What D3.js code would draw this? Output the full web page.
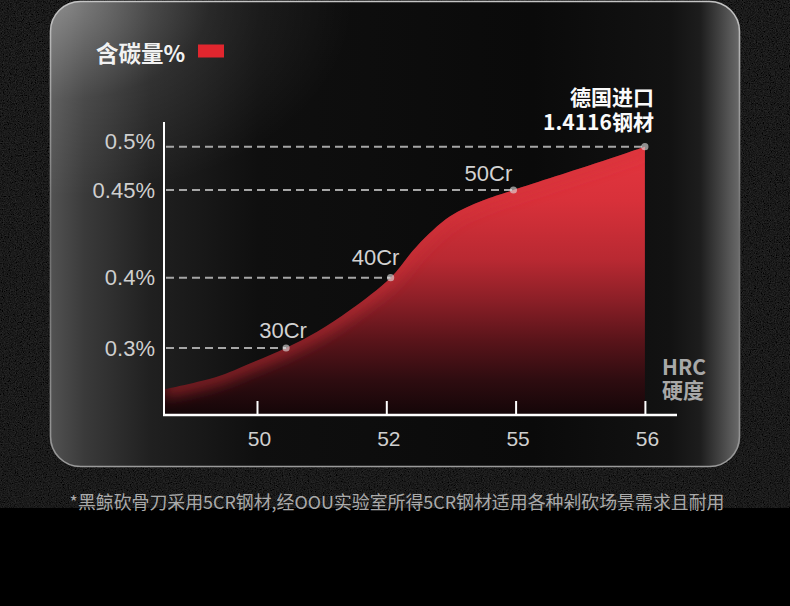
<!DOCTYPE html>
<html>
<head>
<meta charset="utf-8">
<script src="https://cdn.jsdelivr.net/npm/d3@7"></script>
<style>
  html, body { margin: 0; padding: 0; background: #000; }
  svg { display: block; }
</style>
</head>
<body>
<svg id="chart" width="790" height="606"></svg>
<script>
// Carbon content (%) against hardness (HRC) for common knife steels
const hrcTicks = [50, 52, 55, 56];
const carbonTicks = [0.3, 0.4, 0.45, 0.5];

// Steel grades marked on the curve
const gradeNames = ["30Cr", "40Cr", "50Cr", "1.4116"];
const gradeHrc = [50.45, 52.1, 54.95, 56];
const gradeCarbon = [0.30, 0.40, 0.45, 0.50];

// Outline of the shaded curve
const curveHrc = [48.56, 49.38, 49.89, 50.45, 50.93, 51.44, 52.1, 52.71, 53.48, 54.24, 54.95, 55.65, 56];
const curveCarbon = [0.241, 0.259, 0.278, 0.30, 0.323, 0.354, 0.40, 0.418, 0.435, 0.444, 0.45, 0.4823, 0.50];

const titleText = "含碳量%";
const importLabel = ["德国进口", "1.4116钢材"];
const unitLabel = ["HRC", "硬度"];
const footnote = "*黑鲸砍骨刀采用5CR钢材,经OOU实验室所得5CR钢材适用各种剁砍场景需求且耐用";

const W = 790, H = 606;
const svg = d3.select("#chart");
const defs = svg.append("defs");

// ---- page background ----
svg.append("rect").attr("width", W).attr("height", H).attr("fill", "#000");

const grain = defs.append("filter").attr("id", "grain")
  .attr("x", 0).attr("y", 0).attr("width", "100%").attr("height", "100%");
grain.append("feTurbulence").attr("type", "fractalNoise")
  .attr("baseFrequency", 0.85).attr("numOctaves", 2).attr("seed", 7).attr("result", "n");
grain.append("feColorMatrix").attr("in", "n").attr("type", "matrix")
  .attr("values", "0 0 0 0 0.16  0 0 0 0 0.16  0 0 0 0 0.16  0.13 0.13 0.13 0 -0.13")
  .attr("result", "g");
grain.append("feComposite").attr("in", "g").attr("in2", "SourceGraphic").attr("operator", "in").attr("result", "gi");
const gm = grain.append("feMerge");
gm.append("feMergeNode").attr("in", "SourceGraphic");
gm.append("feMergeNode").attr("in", "gi");

svg.append("rect").attr("width", W).attr("height", 508)
  .attr("fill", "#0a0a0a").attr("filter", "url(#grain)");

// ---- card ----
const card = { x: 50.5, y: 1.5, w: 689, h: 465, r: 30 };

const cardFill = defs.append("linearGradient").attr("id", "cardFill")
  .attr("x1", 0).attr("x2", 1).attr("y1", 0).attr("y2", 0);
[[0, "#525252"], [0.05, "#3a3a3a"], [0.145, "#202020"], [0.3, "#0f0f0f"],
 [0.7, "#0a0a0a"], [0.9, "#121212"], [0.943, "#1d1d1d"], [0.972, "#434343"], [1, "#6a6a6a"]]
  .forEach(([o, c]) => cardFill.append("stop").attr("offset", o).attr("stop-color", c));

const cardGlow = defs.append("radialGradient").attr("id", "cardGlow")
  .attr("cx", 0.02).attr("cy", 0.0).attr("r", 0.42);
cardGlow.append("stop").attr("offset", 0).attr("stop-color", "#fff").attr("stop-opacity", 0.34);
cardGlow.append("stop").attr("offset", 0.5).attr("stop-color", "#fff").attr("stop-opacity", 0.08);
cardGlow.append("stop").attr("offset", 1).attr("stop-color", "#fff").attr("stop-opacity", 0);

const cardEdge = defs.append("linearGradient").attr("id", "cardEdge")
  .attr("x1", 0).attr("x2", 0).attr("y1", 0).attr("y2", 1);
cardEdge.append("stop").attr("offset", 0).attr("stop-color", "#c4c4c4");
cardEdge.append("stop").attr("offset", 0.5).attr("stop-color", "#6e6e6e");
cardEdge.append("stop").attr("offset", 1).attr("stop-color", "#9a9a9a");

svg.append("rect").attr("x", card.x).attr("y", card.y).attr("width", card.w).attr("height", card.h)
  .attr("rx", card.r).attr("fill", "url(#cardFill)");
svg.append("rect").attr("x", card.x).attr("y", card.y).attr("width", card.w).attr("height", card.h)
  .attr("rx", card.r).attr("fill", "url(#cardGlow)");
svg.append("rect").attr("x", card.x).attr("y", card.y).attr("width", card.w).attr("height", card.h)
  .attr("rx", card.r).attr("fill", "none").attr("stroke", "url(#cardEdge)").attr("stroke-width", 1.6);

// ---- scales ----
const plot = { left: 164, right: 677, top: 122, bottom: 415 };
const x = d3.scaleLinear().domain(hrcTicks).range(hrcTicks.map((d, i) => 257 + i * 129.3));
const y = d3.scaleLinear().domain(carbonTicks).range([348, 277.7, 190, 146.7]);

// ---- shaded curve ----
const areaFill = defs.append("linearGradient").attr("id", "areaFill")
  .attr("gradientUnits", "userSpaceOnUse").attr("x1", 0).attr("x2", 0)
  .attr("y1", y(0.5)).attr("y2", plot.bottom);
[[0, "#e4363f"], [0.2, "#d8313a"], [0.42, "#b92932"], [0.57, "#8c1f27"],
 [0.72, "#5a141a"], [0.87, "#2e0c10"], [1, "#140608"]]
  .forEach(([o, c]) => areaFill.append("stop").attr("offset", o).attr("stop-color", c));

const pts = curveHrc.map((h, i) => [h, curveCarbon[i]]);
const area = d3.area()
  .x(d => x(d[0])).y0(plot.bottom).y1(d => y(d[1]))
  .curve(d3.curveCatmullRom.alpha(0.5));
const topLine = d3.line().x(d => x(d[0])).y(d => y(d[1])).curve(d3.curveCatmullRom.alpha(0.5));

defs.append("clipPath").attr("id", "areaClip").append("path").attr("d", area(pts));
const soft = defs.append("filter").attr("id", "soft")
  .attr("x", "-10%").attr("y", "-20%").attr("width", "120%").attr("height", "140%");
soft.append("feGaussianBlur").attr("stdDeviation", 7);

svg.append("path").attr("d", area(pts)).attr("fill", "url(#areaFill)");
svg.append("g").attr("clip-path", "url(#areaClip)")
  .append("path").attr("d", topLine(pts))
  .attr("fill", "none").attr("stroke", "#d2303a").attr("stroke-width", 16)
  .attr("stroke-opacity", 0.5).attr("filter", "url(#soft)");

// ---- guide lines to each grade ----
const grades = gradeNames.map((n, i) => ({ name: n, hrc: gradeHrc[i], c: gradeCarbon[i] }));

svg.append("g").selectAll("line").data(grades).join("line")
  .attr("x1", plot.left + 2).attr("x2", d => x(d.hrc))
  .attr("y1", d => y(d.c)).attr("y2", d => y(d.c))
  .attr("stroke", "#a6a6a6").attr("stroke-width", 2).attr("stroke-dasharray", "8 5");

svg.append("g").selectAll("circle").data(grades).join("circle")
  .attr("cx", d => x(d.hrc)).attr("cy", d => y(d.c)).attr("r", 3.6)
  .attr("fill", "#dedede").attr("fill-opacity", 0.62);

// grade names above their points (last grade is labelled separately)
const labelShift = [[-3, -10], [-15, -13], [-25, -9]];
svg.append("g").selectAll("text").data(grades.slice(0, 3)).join("text")
  .attr("x", (d, i) => x(d.hrc) + labelShift[i][0])
  .attr("y", (d, i) => y(d.c) + labelShift[i][1])
  .attr("text-anchor", "middle")
  .attr("font-family", "'Liberation Sans', Arial, sans-serif").attr("font-size", 22)
  .attr("fill", "#d2d2d2")
  .text(d => d.name);

// two-line caption for the imported steel, right-aligned over its point
const last = grades[3];
const importText = svg.append("text")
  .attr("text-anchor", "end")
  .attr("font-family", "'Noto Sans CJK SC', sans-serif").attr("font-weight", 700)
  .attr("font-size", 21).attr("fill", "#fafafa");
importText.selectAll("tspan").data(importLabel).join("tspan")
  .attr("x", x(last.hrc) + 9)
  .attr("y", (d, i) => y(last.c) - 41.5 + i * 24.4)
  .text(d => d);

// ---- axes ----
const yAxis = svg.append("g").attr("transform", `translate(${plot.left},0)`)
  .call(d3.axisLeft(y).tickValues(carbonTicks).tickFormat(d => d + "%").tickSize(0).tickPadding(9));
yAxis.select(".domain").remove();
yAxis.selectAll("text")
  .attr("font-family", "'Liberation Sans', Arial, sans-serif").attr("font-size", 22).attr("fill", "#cfcfcf");
yAxis.selectAll(".tick text").filter(d => d === 0.5).attr("y", -5);

const xAxis = svg.append("g").attr("transform", `translate(0,${plot.bottom})`)
  .call(d3.axisBottom(x).tickValues(hrcTicks).tickFormat(d3.format("d"))
    .tickSizeInner(-14).tickSizeOuter(0).tickPadding(16));
xAxis.select(".domain").remove();
xAxis.selectAll(".tick line").attr("stroke", "#fff").attr("stroke-width", 2);
xAxis.selectAll("text")
  .attr("dx", 2)
  .attr("font-family", "'Liberation Sans', Arial, sans-serif").attr("font-size", 21).attr("fill", "#cfcfcf");

svg.append("line").attr("x1", plot.left).attr("x2", plot.left)
  .attr("y1", plot.top).attr("y2", plot.bottom + 1)
  .attr("stroke", "#fff").attr("stroke-width", 2);
svg.append("line").attr("x1", plot.left - 1).attr("x2", plot.right)
  .attr("y1", plot.bottom).attr("y2", plot.bottom)
  .attr("stroke", "#fff").attr("stroke-width", 2.5);

// axis unit, two lines at the end of the x axis
const unitText = svg.append("text")
  .attr("font-family", "'Noto Sans CJK SC', sans-serif").attr("font-weight", 700)
  .attr("font-size", 21).attr("fill", "#a8a8a8");
unitText.selectAll("tspan").data(unitLabel).join("tspan")
  .attr("x", 662).attr("y", (d, i) => 374.5 + i * 23.3)
  .text(d => d);

// ---- title and legend swatch ----
svg.append("text").attr("x", 96).attr("y", 61.5)
  .attr("font-family", "'Noto Sans CJK SC', sans-serif").attr("font-weight", 700)
  .attr("font-size", 22.5).attr("fill", "#f2f2f2")
  .text(titleText);
svg.append("rect").attr("x", 198).attr("y", 44.5).attr("width", 26).attr("height", 13)
  .attr("fill", "#e1262e");

// ---- footnote ----
svg.append("text").attr("x", 397).attr("y", 508.5)
  .attr("text-anchor", "middle")
  .attr("font-family", "'Noto Sans CJK SC', sans-serif").attr("font-size", 17.9)
  .attr("fill", "#aaaaaa")
  .text(footnote);
</script>
</body>
</html>
